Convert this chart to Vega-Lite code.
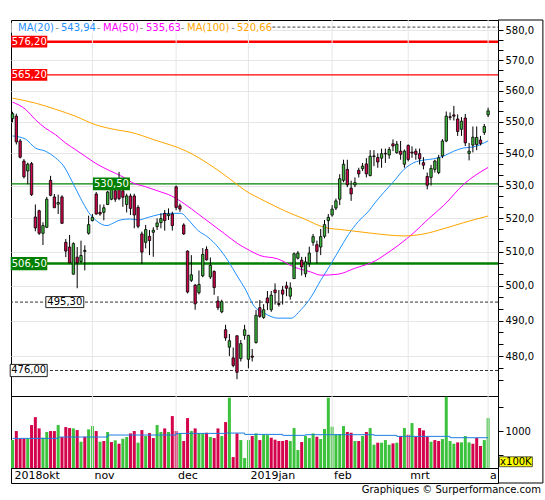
{
  "$schema": "https://vega.github.io/schema/vega-lite/v6.json",
  "padding": {"left": 7, "top": 19, "right": 3, "bottom": 2},
  "background": "white",
  "spacing": 0,
  "bounds": "flush",
  "config": {
    "font": "DejaVu Sans",
    "view": {"stroke": "#000000", "strokeWidth": 1},
    "scale": {"continuousPadding": 0},
    "text": {"font": "DejaVu Sans"},
    "axis": {"labelFont": "DejaVu Sans", "labelFontSize": 10, "labelColor": "#000000", "tickColor": "#000000"}
  },
  "title": {"text": "Graphiques © Surperformance.com", "orient": "bottom", "anchor": "end", "frame": "bounds", "fontSize": 10, "fontWeight": "normal", "font": "DejaVu Sans", "color": "#000000", "offset": 1, "dx": -3},
  "datasets": {
    "ohlc": [
      {"i":0,"o":551.0,"h":553.2,"l":549.8,"c":552.6,"v":812,"vd":"u"},
      {"i":1,"o":551.8,"h":552.6,"l":542.8,"c":543.6,"v":1000,"vd":"d"},
      {"i":2,"o":543.9,"h":544.5,"l":538.4,"c":538.8,"v":847,"vd":"d"},
      {"i":3,"o":537.6,"h":538.2,"l":532.2,"c":532.7,"v":847,"vd":"d"},
      {"i":4,"o":534.5,"h":537.1,"l":530.4,"c":536.6,"v":847,"vd":"u"},
      {"i":5,"o":536.8,"h":537.3,"l":526.8,"c":527.2,"v":1125,"vd":"d"},
      {"i":6,"o":520.4,"h":524.2,"l":516.1,"c":517.1,"v":1290,"vd":"d"},
      {"i":7,"o":522.3,"h":522.6,"l":515.0,"c":515.5,"v":1055,"vd":"d"},
      {"i":8,"o":515.5,"h":518.8,"l":512.0,"c":517.8,"v":861,"vd":"u"},
      {"i":9,"o":517.3,"h":526.5,"l":517.1,"c":525.8,"v":980,"vd":"u"},
      {"i":10,"o":531.6,"h":533.0,"l":526.7,"c":527.0,"v":1000,"vd":"d"},
      {"i":11,"o":526.5,"h":527.4,"l":523.2,"c":523.2,"v":1000,"vd":"d"},
      {"i":12,"o":524.3,"h":527.2,"l":521.3,"c":524.8,"v":1125,"vd":"u"},
      {"i":13,"o":526.5,"h":527.0,"l":518.3,"c":518.5,"v":875,"vd":"d"},
      {"i":14,"o":512.8,"h":513.8,"l":508.4,"c":510.2,"v":1083,"vd":"d"},
      {"i":15,"o":511.4,"h":515.0,"l":506.7,"c":506.7,"v":1062,"vd":"d"},
      {"i":16,"o":503.4,"h":512.8,"l":503.3,"c":512.4,"v":1055,"vd":"u"},
      {"i":17,"o":508.4,"h":511.4,"l":499.3,"c":506.7,"v":1020,"vd":"d"},
      {"i":18,"o":507.1,"h":513.3,"l":506.7,"c":508.9,"v":778,"vd":"u"},
      {"i":19,"o":510.1,"h":511.9,"l":504.5,"c":510.4,"v":882,"vd":"d"},
      {"i":20,"o":515.5,"h":520.8,"l":515.1,"c":518.1,"v":1035,"vd":"u"},
      {"i":21,"o":519.3,"h":521.3,"l":519.1,"c":520.3,"v":1104,"vd":"u"},
      {"i":22,"o":527.4,"h":528.0,"l":521.1,"c":521.3,"v":1000,"vd":"d"},
      {"i":23,"o":521.8,"h":524.2,"l":520.8,"c":521.3,"v":778,"vd":"u"},
      {"i":24,"o":521.8,"h":524.2,"l":519.4,"c":523.2,"v":792,"vd":"d"},
      {"i":25,"o":524.2,"h":528.4,"l":524.0,"c":528.0,"v":980,"vd":"u"},
      {"i":26,"o":525.8,"h":530.5,"l":525.5,"c":529.7,"v":771,"vd":"d"},
      {"i":27,"o":528.4,"h":530.5,"l":525.0,"c":525.8,"v":806,"vd":"u"},
      {"i":28,"o":532.0,"h":534.2,"l":525.5,"c":526.0,"v":736,"vd":"d"},
      {"i":29,"o":528.4,"h":530.0,"l":523.5,"c":526.4,"v":840,"vd":"u"},
      {"i":30,"o":524.2,"h":527.5,"l":521.8,"c":526.8,"v":875,"vd":"u"},
      {"i":31,"o":526.8,"h":527.5,"l":521.0,"c":523.0,"v":951,"vd":"d"},
      {"i":32,"o":526.8,"h":527.5,"l":517.0,"c":521.0,"v":1000,"vd":"d"},
      {"i":33,"o":523.3,"h":524.0,"l":517.0,"c":517.6,"v":757,"vd":"u"},
      {"i":34,"o":515.3,"h":516.0,"l":506.4,"c":509.9,"v":1020,"vd":"d"},
      {"i":35,"o":512.8,"h":518.0,"l":511.0,"c":516.6,"v":896,"vd":"u"},
      {"i":36,"o":514.6,"h":516.5,"l":509.0,"c":513.3,"v":958,"vd":"d"},
      {"i":37,"o":515.8,"h":517.3,"l":508.5,"c":516.4,"v":854,"vd":"d"},
      {"i":38,"o":517.5,"h":520.0,"l":516.5,"c":518.6,"v":1125,"vd":"u"},
      {"i":39,"o":518.7,"h":521.5,"l":517.0,"c":519.9,"v":980,"vd":"u"},
      {"i":40,"o":521.5,"h":522.5,"l":516.3,"c":519.3,"v":1055,"vd":"d"},
      {"i":41,"o":520.8,"h":523.0,"l":519.5,"c":521.3,"v":980,"vd":"u"},
      {"i":42,"o":521.3,"h":522.0,"l":516.3,"c":517.8,"v":1312,"vd":"d"},
      {"i":43,"o":529.6,"h":530.0,"l":522.5,"c":523.3,"v":1000,"vd":"d"},
      {"i":44,"o":523.8,"h":524.5,"l":522.0,"c":522.8,"v":951,"vd":"u"},
      {"i":45,"o":518.0,"h":518.5,"l":515.0,"c":515.3,"v":792,"vd":"d"},
      {"i":46,"o":510.2,"h":510.4,"l":497.8,"c":498.2,"v":1270,"vd":"d"},
      {"i":47,"o":501.6,"h":509.0,"l":501.1,"c":503.2,"v":1000,"vd":"u"},
      {"i":48,"o":500.2,"h":500.5,"l":493.1,"c":494.8,"v":1055,"vd":"d"},
      {"i":49,"o":498.0,"h":504.5,"l":497.5,"c":500.4,"v":951,"vd":"u"},
      {"i":50,"o":502.9,"h":511.1,"l":502.5,"c":509.2,"v":951,"vd":"u"},
      {"i":51,"o":510.7,"h":511.6,"l":507.4,"c":507.6,"v":965,"vd":"d"},
      {"i":52,"o":502.6,"h":508.3,"l":502.0,"c":506.0,"v":875,"vd":"u"},
      {"i":53,"o":504.2,"h":504.5,"l":497.4,"c":499.5,"v":854,"vd":"d"},
      {"i":54,"o":495.6,"h":497.0,"l":493.0,"c":493.7,"v":1055,"vd":"d"},
      {"i":55,"o":492.5,"h":496.0,"l":492.1,"c":495.4,"v":896,"vd":"u"},
      {"i":56,"o":487.4,"h":488.8,"l":484.3,"c":485.1,"v":1187,"vd":"d"},
      {"i":57,"o":482.5,"h":486.2,"l":480.0,"c":484.3,"v":1694,"vd":"u"},
      {"i":58,"o":479.5,"h":482.4,"l":476.9,"c":477.4,"v":458,"vd":"d"},
      {"i":59,"o":485.7,"h":485.8,"l":473.6,"c":475.5,"v":951,"vd":"d"},
      {"i":60,"o":479.3,"h":484.5,"l":478.5,"c":483.5,"v":812,"vd":"u"},
      {"i":61,"o":485.8,"h":488.8,"l":484.6,"c":487.4,"v":437,"vd":"u"},
      {"i":62,"o":479.1,"h":486.0,"l":476.6,"c":485.8,"v":812,"vd":"u"},
      {"i":63,"o":480.0,"h":482.0,"l":478.5,"c":479.7,"v":896,"vd":"d"},
      {"i":64,"o":483.8,"h":493.0,"l":483.5,"c":491.5,"v":951,"vd":"u"},
      {"i":65,"o":493.7,"h":495.9,"l":490.8,"c":491.2,"v":812,"vd":"d"},
      {"i":66,"o":490.9,"h":494.7,"l":490.5,"c":493.1,"v":930,"vd":"u"},
      {"i":67,"o":496.5,"h":498.5,"l":493.0,"c":495.1,"v":916,"vd":"u"},
      {"i":68,"o":493.1,"h":498.5,"l":492.5,"c":497.3,"v":861,"vd":"d"},
      {"i":69,"o":498.8,"h":500.7,"l":494.6,"c":498.0,"v":820,"vd":"d"},
      {"i":70,"o":494.9,"h":498.8,"l":494.0,"c":494.6,"v":792,"vd":"d"},
      {"i":71,"o":498.8,"h":500.0,"l":494.6,"c":497.6,"v":792,"vd":"d"},
      {"i":72,"o":500.0,"h":501.2,"l":497.0,"c":499.3,"v":812,"vd":"d"},
      {"i":73,"o":497.0,"h":501.0,"l":496.0,"c":499.4,"v":792,"vd":"u"},
      {"i":74,"o":502.1,"h":509.8,"l":502.1,"c":509.4,"v":1062,"vd":"u"},
      {"i":75,"o":508.1,"h":510.2,"l":507.7,"c":509.6,"v":604,"vd":"u"},
      {"i":76,"o":507.5,"h":508.5,"l":503.0,"c":505.5,"v":771,"vd":"d"},
      {"i":77,"o":503.5,"h":508.5,"l":502.5,"c":507.0,"v":896,"vd":"u"},
      {"i":78,"o":506.6,"h":511.5,"l":505.5,"c":509.6,"v":854,"vd":"u"},
      {"i":79,"o":512.8,"h":515.3,"l":511.8,"c":514.5,"v":951,"vd":"u"},
      {"i":80,"o":512.1,"h":513.3,"l":506.5,"c":510.1,"v":882,"vd":"d"},
      {"i":81,"o":511.4,"h":516.8,"l":509.0,"c":514.5,"v":833,"vd":"u"},
      {"i":82,"o":514.6,"h":519.5,"l":514.0,"c":518.1,"v":1042,"vd":"u"},
      {"i":83,"o":519.3,"h":521.3,"l":515.5,"c":520.3,"v":1694,"vd":"u"},
      {"i":84,"o":521.0,"h":524.0,"l":520.5,"c":522.8,"v":1090,"vd":"u"},
      {"i":85,"o":523.1,"h":526.0,"l":522.5,"c":525.3,"v":937,"vd":"u"},
      {"i":86,"o":525.8,"h":533.5,"l":524.0,"c":532.1,"v":937,"vd":"u"},
      {"i":87,"o":531.6,"h":538.0,"l":531.0,"c":536.6,"v":1104,"vd":"u"},
      {"i":88,"o":535.0,"h":538.0,"l":529.5,"c":530.2,"v":980,"vd":"d"},
      {"i":89,"o":529.2,"h":531.5,"l":525.3,"c":527.4,"v":965,"vd":"d"},
      {"i":90,"o":530.2,"h":532.5,"l":529.5,"c":530.9,"v":792,"vd":"u"},
      {"i":91,"o":534.7,"h":535.5,"l":532.5,"c":533.6,"v":792,"vd":"d"},
      {"i":92,"o":535.2,"h":537.0,"l":534.5,"c":536.0,"v":896,"vd":"u"},
      {"i":93,"o":536.7,"h":538.5,"l":532.5,"c":533.6,"v":980,"vd":"d"},
      {"i":94,"o":533.1,"h":541.0,"l":532.8,"c":539.1,"v":1062,"vd":"u"},
      {"i":95,"o":539.2,"h":541.0,"l":536.0,"c":539.0,"v":715,"vd":"u"},
      {"i":96,"o":538.7,"h":540.0,"l":535.5,"c":537.3,"v":757,"vd":"d"},
      {"i":97,"o":538.5,"h":541.5,"l":535.5,"c":539.9,"v":757,"vd":"u"},
      {"i":98,"o":540.0,"h":541.5,"l":537.0,"c":539.8,"v":812,"vd":"u"},
      {"i":99,"o":539.5,"h":542.0,"l":538.3,"c":541.2,"v":715,"vd":"u"},
      {"i":100,"o":543.0,"h":544.4,"l":540.7,"c":542.3,"v":743,"vd":"d"},
      {"i":101,"o":540.2,"h":543.9,"l":539.9,"c":542.9,"v":757,"vd":"u"},
      {"i":102,"o":540.7,"h":543.9,"l":538.0,"c":539.7,"v":896,"vd":"d"},
      {"i":103,"o":536.6,"h":541.2,"l":535.5,"c":540.7,"v":1062,"vd":"u"},
      {"i":104,"o":542.5,"h":542.8,"l":537.5,"c":538.1,"v":923,"vd":"d"},
      {"i":105,"o":540.4,"h":542.2,"l":538.6,"c":540.1,"v":1166,"vd":"u"},
      {"i":106,"o":540.7,"h":541.5,"l":538.0,"c":539.7,"v":882,"vd":"d"},
      {"i":107,"o":539.9,"h":541.5,"l":536.5,"c":538.3,"v":1062,"vd":"d"},
      {"i":108,"o":537.1,"h":538.8,"l":535.0,"c":536.3,"v":1014,"vd":"d"},
      {"i":109,"o":532.8,"h":534.0,"l":528.8,"c":530.1,"v":880,"vd":"d"},
      {"i":110,"o":532.5,"h":536.4,"l":530.0,"c":535.3,"v":778,"vd":"u"},
      {"i":111,"o":535.0,"h":538.0,"l":534.0,"c":537.6,"v":812,"vd":"d"},
      {"i":112,"o":534.0,"h":539.5,"l":533.5,"c":538.6,"v":792,"vd":"d"},
      {"i":113,"o":539.2,"h":544.5,"l":538.5,"c":543.9,"v":833,"vd":"u"},
      {"i":114,"o":543.9,"h":553.3,"l":543.5,"c":551.8,"v":1715,"vd":"u"},
      {"i":115,"o":551.6,"h":553.0,"l":550.5,"c":551.4,"v":792,"vd":"u"},
      {"i":116,"o":552.2,"h":555.1,"l":550.4,"c":551.8,"v":736,"vd":"u"},
      {"i":117,"o":550.9,"h":552.4,"l":545.5,"c":546.9,"v":764,"vd":"d"},
      {"i":118,"o":547.6,"h":551.5,"l":545.5,"c":550.2,"v":764,"vd":"u"},
      {"i":119,"o":551.2,"h":552.5,"l":542.3,"c":543.3,"v":896,"vd":"u"},
      {"i":120,"o":540.0,"h":543.3,"l":537.8,"c":540.7,"v":764,"vd":"u"},
      {"i":121,"o":542.6,"h":548.5,"l":540.3,"c":545.1,"v":736,"vd":"d"},
      {"i":122,"o":542.8,"h":548.5,"l":541.0,"c":545.0,"v":854,"vd":"d"},
      {"i":123,"o":544.2,"h":545.5,"l":542.5,"c":543.1,"v":688,"vd":"d"},
      {"i":124,"o":546.6,"h":549.3,"l":545.8,"c":548.5,"v":812,"vd":"u"},
      {"i":125,"o":552.2,"h":554.5,"l":551.5,"c":553.5,"v":1270,"vd":"u"}
    ],
    "ma": [
      {"s":"ma20","i":0,"v":545.5},{"s":"ma20","i":3.4,"v":544.5},{"s":"ma20","i":6,"v":541.7},{"s":"ma20","i":8.6,"v":540.7},{"s":"ma20","i":11.3,"v":538.6},{"s":"ma20","i":13.4,"v":536.1},{"s":"ma20","i":15.6,"v":531.4},{"s":"ma20","i":17.8,"v":526.3},{"s":"ma20","i":20,"v":521.8},{"s":"ma20","i":22,"v":519.3},{"s":"ma20","i":24.8,"v":517.8},{"s":"ma20","i":26,"v":518.3},{"s":"ma20","i":28.3,"v":519.5},{"s":"ma20","i":31,"v":519.8},{"s":"ma20","i":33,"v":519.5},{"s":"ma20","i":35.7,"v":520.3},{"s":"ma20","i":38.3,"v":521.1},{"s":"ma20","i":41,"v":521.5},{"s":"ma20","i":44.4,"v":521.5},{"s":"ma20","i":46,"v":519.8},{"s":"ma20","i":48.8,"v":516.3},{"s":"ma20","i":51.4,"v":514.3},{"s":"ma20","i":54,"v":511.4},{"s":"ma20","i":56.6,"v":507.4},{"s":"ma20","i":59.2,"v":502.6},{"s":"ma20","i":61,"v":499.4},{"s":"ma20","i":63.6,"v":494.0},{"s":"ma20","i":66.2,"v":492.1},{"s":"ma20","i":69.7,"v":490.7},{"s":"ma20","i":73.2,"v":490.7},{"s":"ma20","i":75.8,"v":493.1},{"s":"ma20","i":78.5,"v":496.8},{"s":"ma20","i":81,"v":501.6},{"s":"ma20","i":83.7,"v":506.4},{"s":"ma20","i":86.3,"v":511.4},{"s":"ma20","i":89,"v":516.3},{"s":"ma20","i":91.5,"v":519.8},{"s":"ma20","i":93.7,"v":522.3},{"s":"ma20","i":95,"v":524.3},{"s":"ma20","i":97.6,"v":527.9},{"s":"ma20","i":100.3,"v":531.4},{"s":"ma20","i":102.9,"v":535.0},{"s":"ma20","i":105.5,"v":537.1},{"s":"ma20","i":108.1,"v":537.9},{"s":"ma20","i":110.7,"v":538.3},{"s":"ma20","i":113.4,"v":539.2},{"s":"ma20","i":116,"v":540.7},{"s":"ma20","i":118.6,"v":541.7},{"s":"ma20","i":121,"v":542.0},{"s":"ma20","i":125,"v":543.9},
      {"s":"ma50","i":0,"v":556.3},{"s":"ma50","i":3.4,"v":554.0},{"s":"ma50","i":6,"v":550.7},{"s":"ma50","i":8.6,"v":548.0},{"s":"ma50","i":11.3,"v":545.9},{"s":"ma50","i":13.9,"v":543.3},{"s":"ma50","i":16.5,"v":541.2},{"s":"ma50","i":19.1,"v":539.1},{"s":"ma50","i":21.7,"v":537.0},{"s":"ma50","i":24.3,"v":535.3},{"s":"ma50","i":27,"v":533.8},{"s":"ma50","i":29.6,"v":532.3},{"s":"ma50","i":31.3,"v":531.0},{"s":"ma50","i":34.8,"v":529.7},{"s":"ma50","i":38.3,"v":528.3},{"s":"ma50","i":41.8,"v":526.8},{"s":"ma50","i":45.3,"v":524.3},{"s":"ma50","i":48.8,"v":521.3},{"s":"ma50","i":52.3,"v":518.3},{"s":"ma50","i":55.8,"v":515.3},{"s":"ma50","i":59.2,"v":512.4},{"s":"ma50","i":62.3,"v":510.4},{"s":"ma50","i":65,"v":508.9},{"s":"ma50","i":69.7,"v":507.9},{"s":"ma50","i":74,"v":505.5},{"s":"ma50","i":78.5,"v":504.0},{"s":"ma50","i":81.1,"v":503.1},{"s":"ma50","i":85.6,"v":503.4},{"s":"ma50","i":89.9,"v":505.1},{"s":"ma50","i":95.5,"v":507.4},{"s":"ma50","i":97.6,"v":508.9},{"s":"ma50","i":101.5,"v":512.0},{"s":"ma50","i":105.5,"v":515.7},{"s":"ma50","i":109.4,"v":519.9},{"s":"ma50","i":113.4,"v":524.0},{"s":"ma50","i":118.6,"v":530.4},{"s":"ma50","i":125,"v":535.6},
      {"s":"ma100","i":0,"v":557.6},{"s":"ma100","i":6,"v":556.0},{"s":"ma100","i":11.3,"v":554.0},{"s":"ma100","i":16.5,"v":551.8},{"s":"ma100","i":21.7,"v":549.1},{"s":"ma100","i":27,"v":547.5},{"s":"ma100","i":30.9,"v":546.7},{"s":"ma100","i":37.4,"v":544.2},{"s":"ma100","i":45.7,"v":540.7},{"s":"ma100","i":52.3,"v":536.1},{"s":"ma100","i":58.4,"v":530.9},{"s":"ma100","i":61,"v":528.6},{"s":"ma100","i":66.2,"v":525.3},{"s":"ma100","i":71.5,"v":522.3},{"s":"ma100","i":76.7,"v":519.8},{"s":"ma100","i":81.9,"v":517.3},{"s":"ma100","i":87.2,"v":516.5},{"s":"ma100","i":93.7,"v":515.6},{"s":"ma100","i":97.6,"v":515.1},{"s":"ma100","i":102.9,"v":514.7},{"s":"ma100","i":108.1,"v":515.3},{"s":"ma100","i":113.4,"v":516.9},{"s":"ma100","i":118.6,"v":518.7},{"s":"ma100","i":125,"v":520.7}
    ],
    "vma": [
      {"i":0,"v":847},{"i":12,"v":875},{"i":25,"v":917},{"i":43,"v":951},{"i":56,"v":958},{"i":61,"v":930},{"i":71,"v":910},{"i":77,"v":924},{"i":95,"v":910},{"i":101,"v":889},{"i":115,"v":861},{"i":125,"v":861}
    ],
    "levels": [
      {"p":576.2,"t":"576,20"},{"p":565.2,"t":"565,20"},{"p":530.5,"t":"530,50"},{"p":506.5,"t":"506,50"},{"p":495.3,"t":"495,30"},{"p":476.0,"t":"476,00"}
    ],
    "months": [
      {"m":"2018okt","i":0},{"m":"nov","i":21},{"m":"dec","i":43},{"m":"2019jan","i":62},{"m":"feb","i":84},{"m":"mrt","i":104},{"m":"a","i":125}
    ]
  },
  "vconcat": [
    {
      "width": 487,
      "height": 376,
      "layer": [
        {
          "data": {"name": "levels"},
          "mark": {"type": "rule", "color": "#FF0000", "strokeWidth": 2.5},
          "transform": [{"filter": "datum.p == 576.2"}],
          "encoding": {
            "y": {"field": "p", "type": "quantitative", "title": null, "scale": {"type": "log", "domain": [469, 583.5], "nice": false, "zero": false},
              "axis": {"orient": "right", "title": null, "domain": false, "tickSize": 5, "labelPadding": 2, "labelOverlap": false, "labelFlush": false,
                "values": [473.3333, 476.6667, 480, 483.3333, 486.6667, 490, 493.3333, 496.6667, 500, 503.3333, 506.6667, 510, 513.3333, 516.6667, 520, 523.3333, 526.6667, 530, 533.3333, 536.6667, 540, 543.3333, 546.6667, 550, 553.3333, 556.6667, 560, 563.3333, 566.6667, 570, 573.3333, 576.6667, 580],
                "labelExpr": "abs(datum.value % 10) < 0.01 ? replace(format(datum.value, '.1f'), '.', ',') : ''",
                "grid": true, "gridColor": "#E6E6E6",
                "gridOpacity": {"condition": {"test": "abs(datum.value % 10) < 0.01", "value": 1}, "value": 0}}}
          }
        },
        {
          "data": {"name": "months"},
          "transform": [{"filter": "datum.i > 0"}],
          "mark": {"type": "rule", "color": "#E6E6E6", "strokeWidth": 1},
          "encoding": {
            "x": {"field": "i", "type": "quantitative", "title": null, "scale": {"domain": [-0.4, 127.6], "nice": false, "zero": false}, "axis": null}
          }
        },
        {
          "data": {"name": "levels"},
          "mark": {"type": "rule", "color": "#FF0000", "strokeWidth": 1.2},
          "transform": [{"filter": "datum.p == 565.2"}],
          "encoding": {"y": {"field": "p", "type": "quantitative", "title": null, "scale": {"type": "log", "domain": [469, 583.5], "nice": false, "zero": false}}}
        },
        {
          "data": {"name": "levels"},
          "mark": {"type": "rule", "color": "#008000", "strokeWidth": 1.2},
          "transform": [{"filter": "datum.p == 530.5"}],
          "encoding": {"y": {"field": "p", "type": "quantitative", "title": null, "scale": {"type": "log", "domain": [469, 583.5], "nice": false, "zero": false}}}
        },
        {
          "data": {"name": "levels"},
          "mark": {"type": "rule", "color": "#008000", "strokeWidth": 2.5},
          "transform": [{"filter": "datum.p == 506.5"}],
          "encoding": {"y": {"field": "p", "type": "quantitative", "title": null, "scale": {"type": "log", "domain": [469, 583.5], "nice": false, "zero": false}}}
        },
        {
          "data": {"name": "levels"},
          "mark": {"type": "rule", "color": "#333333", "strokeWidth": 1, "strokeDash": [3, 2]},
          "transform": [{"filter": "datum.p < 500"}],
          "encoding": {"y": {"field": "p", "type": "quantitative", "title": null, "scale": {"type": "log", "domain": [469, 583.5], "nice": false, "zero": false}}}
        },
        {
          "data": {"name": "ma"},
          "mark": {"type": "line", "strokeWidth": 1, "interpolate": "monotone"},
          "encoding": {
            "x": {"field": "i", "type": "quantitative", "title": null, "scale": {"domain": [-0.4, 127.6], "nice": false, "zero": false}, "axis": null},
            "y": {"field": "v", "type": "quantitative", "title": null, "scale": {"type": "log", "domain": [469, 583.5], "nice": false, "zero": false}},
            "color": {"field": "s", "type": "nominal", "scale": {"domain": ["ma20", "ma50", "ma100"], "range": ["#1E90FF", "#FF00FF", "#FFA500"]}, "legend": null}
          }
        },
        {
          "data": {"name": "ohlc"},
          "mark": {"type": "rule", "color": "#000000", "strokeWidth": 1},
          "encoding": {
            "x": {"field": "i", "type": "quantitative", "title": null, "scale": {"domain": [-0.4, 127.6], "nice": false, "zero": false}, "axis": null},
            "y": {"field": "l", "type": "quantitative", "title": null, "scale": {"type": "log", "domain": [469, 583.5], "nice": false, "zero": false}},
            "y2": {"field": "h"}
          }
        },
        {
          "data": {"name": "ohlc"},
          "mark": {"type": "bar", "orient": "vertical", "size": 2.4, "stroke": "#000000", "strokeWidth": 0.8},
          "encoding": {
            "x": {"field": "i", "type": "quantitative", "title": null, "scale": {"domain": [-0.4, 127.6], "nice": false, "zero": false}, "axis": null},
            "y": {"field": "o", "type": "quantitative", "title": null, "scale": {"type": "log", "domain": [469, 583.5], "nice": false, "zero": false}},
            "y2": {"field": "c"},
            "fill": {"condition": {"test": "datum.c >= datum.o", "value": "#3DB83D"}, "value": "#D0044C"}
          }
        },
        {
          "data": {"values": [{"f": "legend background"}]},
          "mark": {"type": "rect", "fill": "#FFFFFF"},
          "encoding": {
            "x": {"datum": -0.3, "type": "quantitative", "title": null, "scale": {"domain": [-0.4, 127.6], "nice": false, "zero": false}, "axis": null},
            "x2": {"datum": 68.3},
            "y": {"datum": 579.2, "type": "quantitative", "title": null, "scale": {"type": "log", "domain": [469, 583.5], "nice": false, "zero": false}},
            "y2": {"datum": 582.6}
          }
        },
        {
          "data": {"values": [{"p": 581.1}]},
          "mark": {"type": "rule", "color": "#444444", "strokeWidth": 1, "strokeDash": [3, 2]},
          "encoding": {
            "x": {"datum": 68.3, "type": "quantitative", "title": null, "scale": {"domain": [-0.4, 127.6], "nice": false, "zero": false}, "axis": null},
            "x2": {"datum": 127.6},
            "y": {"field": "p", "type": "quantitative", "title": null, "scale": {"type": "log", "domain": [469, 583.5], "nice": false, "zero": false}}
          }
        },
        {
          "data": {"name": "levels"},
          "transform": [{"filter": "datum.p > 560"}],
          "mark": {"type": "point", "filled": true, "opacity": 1, "color": "#FF0000", "size": 1296, "shape": "M-1,-0.33H1V0.33H-1Z"},
          "encoding": {
            "x": {"datum": 4.4, "type": "quantitative", "title": null, "scale": {"domain": [-0.4, 127.6], "nice": false, "zero": false}, "axis": null},
            "y": {"field": "p", "type": "quantitative", "title": null, "scale": {"type": "log", "domain": [469, 583.5], "nice": false, "zero": false}}
          }
        },
        {
          "data": {"name": "levels"},
          "transform": [{"filter": "datum.p == 506.5"}],
          "mark": {"type": "point", "filled": true, "opacity": 1, "color": "#008000", "size": 1340, "shape": "M-1,-0.36H1V0.36H-1Z"},
          "encoding": {
            "x": {"datum": 4.33, "type": "quantitative", "title": null, "scale": {"domain": [-0.4, 127.6], "nice": false, "zero": false}, "axis": null},
            "y": {"field": "p", "type": "quantitative", "title": null, "scale": {"type": "log", "domain": [469, 583.5], "nice": false, "zero": false}}
          }
        },
        {
          "data": {"name": "levels"},
          "transform": [{"filter": "datum.p == 530.5"}],
          "mark": {"type": "point", "filled": true, "opacity": 1, "color": "#008000", "size": 1369, "shape": "M-1,-0.34H1V0.34H-1Z"},
          "encoding": {
            "x": {"datum": 26.0, "type": "quantitative", "title": null, "scale": {"domain": [-0.4, 127.6], "nice": false, "zero": false}, "axis": null},
            "y": {"field": "p", "type": "quantitative", "title": null, "scale": {"type": "log", "domain": [469, 583.5], "nice": false, "zero": false}}
          }
        },
        {
          "data": {"name": "levels"},
          "transform": [{"filter": "datum.p == 495.3"}],
          "mark": {"type": "point", "filled": true, "opacity": 1, "fill": "#FFFFFF", "stroke": "#222222", "strokeWidth": 1, "size": 1440, "shape": "M-1,-0.29H1V0.29H-1Z"},
          "encoding": {
            "x": {"datum": 13.74, "type": "quantitative", "title": null, "scale": {"domain": [-0.4, 127.6], "nice": false, "zero": false}, "axis": null},
            "y": {"field": "p", "type": "quantitative", "title": null, "scale": {"type": "log", "domain": [469, 583.5], "nice": false, "zero": false}}
          }
        },
        {
          "data": {"name": "levels"},
          "transform": [{"filter": "datum.p == 476"}],
          "mark": {"type": "point", "filled": true, "opacity": 1, "fill": "#FFFFFF", "stroke": "#222222", "strokeWidth": 1, "size": 1369, "shape": "M-1,-0.33H1V0.33H-1Z"},
          "encoding": {
            "x": {"datum": 4.25, "type": "quantitative", "title": null, "scale": {"domain": [-0.4, 127.6], "nice": false, "zero": false}, "axis": null},
            "y": {"field": "p", "type": "quantitative", "title": null, "scale": {"type": "log", "domain": [469, 583.5], "nice": false, "zero": false}}
          }
        },
        {
          "data": {"name": "levels"},
          "transform": [{"filter": "datum.p > 560 || datum.p == 506.5"}],
          "mark": {"type": "text", "color": "#FFFFFF", "fontSize": 10, "align": "center", "baseline": "middle"},
          "encoding": {
            "x": {"datum": 4.4, "type": "quantitative", "title": null, "scale": {"domain": [-0.4, 127.6], "nice": false, "zero": false}, "axis": null},
            "y": {"field": "p", "type": "quantitative", "title": null, "scale": {"type": "log", "domain": [469, 583.5], "nice": false, "zero": false}},
            "text": {"field": "t"}
          }
        },
        {
          "data": {"name": "levels"},
          "transform": [{"filter": "datum.p == 530.5"}],
          "mark": {"type": "text", "color": "#FFFFFF", "fontSize": 10, "align": "center", "baseline": "middle"},
          "encoding": {
            "x": {"datum": 26.0, "type": "quantitative", "title": null, "scale": {"domain": [-0.4, 127.6], "nice": false, "zero": false}, "axis": null},
            "y": {"field": "p", "type": "quantitative", "title": null, "scale": {"type": "log", "domain": [469, 583.5], "nice": false, "zero": false}},
            "text": {"field": "t"}
          }
        },
        {
          "data": {"name": "levels"},
          "transform": [{"filter": "datum.p == 495.3"}],
          "mark": {"type": "text", "color": "#000000", "fontSize": 10, "align": "center", "baseline": "middle"},
          "encoding": {
            "x": {"datum": 13.74, "type": "quantitative", "title": null, "scale": {"domain": [-0.4, 127.6], "nice": false, "zero": false}, "axis": null},
            "y": {"field": "p", "type": "quantitative", "title": null, "scale": {"type": "log", "domain": [469, 583.5], "nice": false, "zero": false}},
            "text": {"field": "t"}
          }
        },
        {
          "data": {"name": "levels"},
          "transform": [{"filter": "datum.p == 476"}],
          "mark": {"type": "text", "color": "#000000", "fontSize": 10, "align": "center", "baseline": "middle"},
          "encoding": {
            "x": {"datum": 4.25, "type": "quantitative", "title": null, "scale": {"domain": [-0.4, 127.6], "nice": false, "zero": false}, "axis": null},
            "y": {"field": "p", "type": "quantitative", "title": null, "scale": {"type": "log", "domain": [469, 583.5], "nice": false, "zero": false}},
            "text": {"field": "t"}
          }
        },
        {
          "data": {"values": [{"t": "MA(20)"}]},
          "mark": {"type": "text", "color": "#1E90FF", "fontSize": 10, "align": "left", "baseline": "middle"},
          "encoding": {
            "x": {"datum": 1.44, "type": "quantitative", "title": null, "scale": {"domain": [-0.4, 127.6], "nice": false, "zero": false}, "axis": null},
            "y": {"datum": 580.8, "type": "quantitative", "title": null, "scale": {"type": "log", "domain": [469, 583.5], "nice": false, "zero": false}},
            "text": {"field": "t"}
          }
        },
        {
          "data": {"values": [{"t": "543,94"}]},
          "mark": {"type": "text", "color": "#1E90FF", "fontSize": 10, "align": "left", "baseline": "middle"},
          "encoding": {
            "x": {"datum": 12.74, "type": "quantitative", "title": null, "scale": {"domain": [-0.4, 127.6], "nice": false, "zero": false}, "axis": null},
            "y": {"datum": 580.8, "type": "quantitative", "title": null, "scale": {"type": "log", "domain": [469, 583.5], "nice": false, "zero": false}},
            "text": {"field": "t"}
          }
        },
        {
          "data": {"values": [{"t": "MA(50)"}]},
          "mark": {"type": "text", "color": "#FF00FF", "fontSize": 10, "align": "left", "baseline": "middle"},
          "encoding": {
            "x": {"datum": 23.78, "type": "quantitative", "title": null, "scale": {"domain": [-0.4, 127.6], "nice": false, "zero": false}, "axis": null},
            "y": {"datum": 580.8, "type": "quantitative", "title": null, "scale": {"type": "log", "domain": [469, 583.5], "nice": false, "zero": false}},
            "text": {"field": "t"}
          }
        },
        {
          "data": {"values": [{"t": "535,63"}]},
          "mark": {"type": "text", "color": "#FF00FF", "fontSize": 10, "align": "left", "baseline": "middle"},
          "encoding": {
            "x": {"datum": 35.08, "type": "quantitative", "title": null, "scale": {"domain": [-0.4, 127.6], "nice": false, "zero": false}, "axis": null},
            "y": {"datum": 580.8, "type": "quantitative", "title": null, "scale": {"type": "log", "domain": [469, 583.5], "nice": false, "zero": false}},
            "text": {"field": "t"}
          }
        },
        {
          "data": {"values": [{"t": "MA(100)"}]},
          "mark": {"type": "text", "color": "#FFA500", "fontSize": 10, "align": "left", "baseline": "middle"},
          "encoding": {
            "x": {"datum": 45.86, "type": "quantitative", "title": null, "scale": {"domain": [-0.4, 127.6], "nice": false, "zero": false}, "axis": null},
            "y": {"datum": 580.8, "type": "quantitative", "title": null, "scale": {"type": "log", "domain": [469, 583.5], "nice": false, "zero": false}},
            "text": {"field": "t"}
          }
        },
        {
          "data": {"values": [{"t": "520,66"}]},
          "mark": {"type": "text", "color": "#FFA500", "fontSize": 10, "align": "left", "baseline": "middle"},
          "encoding": {
            "x": {"datum": 59.0, "type": "quantitative", "title": null, "scale": {"domain": [-0.4, 127.6], "nice": false, "zero": false}, "axis": null},
            "y": {"datum": 580.8, "type": "quantitative", "title": null, "scale": {"type": "log", "domain": [469, 583.5], "nice": false, "zero": false}},
            "text": {"field": "t"}
          }
        },
        {
          "data": {"values": [{"t": "-"}]},
          "mark": {"type": "text", "color": "#888888", "fontSize": 10, "align": "center", "baseline": "middle"},
          "encoding": {
            "x": {"datum": 11.69, "type": "quantitative", "title": null, "scale": {"domain": [-0.4, 127.6], "nice": false, "zero": false}, "axis": null},
            "y": {"datum": 580.8, "type": "quantitative", "title": null, "scale": {"type": "log", "domain": [469, 583.5], "nice": false, "zero": false}},
            "text": {"field": "t"}
          }
        },
        {
          "data": {"values": [{"t": "-"}]},
          "mark": {"type": "text", "color": "#888888", "fontSize": 10, "align": "center", "baseline": "middle"},
          "encoding": {
            "x": {"datum": 22.6, "type": "quantitative", "title": null, "scale": {"domain": [-0.4, 127.6], "nice": false, "zero": false}, "axis": null},
            "y": {"datum": 580.8, "type": "quantitative", "title": null, "scale": {"type": "log", "domain": [469, 583.5], "nice": false, "zero": false}},
            "text": {"field": "t"}
          }
        },
        {
          "data": {"values": [{"t": "-"}]},
          "mark": {"type": "text", "color": "#888888", "fontSize": 10, "align": "center", "baseline": "middle"},
          "encoding": {
            "x": {"datum": 33.9, "type": "quantitative", "title": null, "scale": {"domain": [-0.4, 127.6], "nice": false, "zero": false}, "axis": null},
            "y": {"datum": 580.8, "type": "quantitative", "title": null, "scale": {"type": "log", "domain": [469, 583.5], "nice": false, "zero": false}},
            "text": {"field": "t"}
          }
        },
        {
          "data": {"values": [{"t": "-"}]},
          "mark": {"type": "text", "color": "#888888", "fontSize": 10, "align": "center", "baseline": "middle"},
          "encoding": {
            "x": {"datum": 44.7, "type": "quantitative", "title": null, "scale": {"domain": [-0.4, 127.6], "nice": false, "zero": false}, "axis": null},
            "y": {"datum": 580.8, "type": "quantitative", "title": null, "scale": {"type": "log", "domain": [469, 583.5], "nice": false, "zero": false}},
            "text": {"field": "t"}
          }
        },
        {
          "data": {"values": [{"t": "-"}]},
          "mark": {"type": "text", "color": "#888888", "fontSize": 10, "align": "center", "baseline": "middle"},
          "encoding": {
            "x": {"datum": 57.95, "type": "quantitative", "title": null, "scale": {"domain": [-0.4, 127.6], "nice": false, "zero": false}, "axis": null},
            "y": {"datum": 580.8, "type": "quantitative", "title": null, "scale": {"type": "log", "domain": [469, 583.5], "nice": false, "zero": false}},
            "text": {"field": "t"}
          }
        },
        {
          "data": {"values": [{"f": "frame"}]},
          "mark": {"type": "rule", "color": "#000000", "strokeWidth": 1},
          "encoding": {
            "x": {"datum": 139.4, "type": "quantitative", "title": null, "scale": {"domain": [-0.4, 127.6], "nice": false, "zero": false}, "axis": null}
          }
        },
        {
          "data": {"values": [{"f": "frame"}]},
          "mark": {"type": "rule", "color": "#000000", "strokeWidth": 1},
          "encoding": {
            "x": {"datum": 127.6, "type": "quantitative", "title": null, "scale": {"domain": [-0.4, 127.6], "nice": false, "zero": false}, "axis": null},
            "x2": {"datum": 139.4},
            "y": {"datum": 583.5, "type": "quantitative", "title": null, "scale": {"type": "log", "domain": [469, 583.5], "nice": false, "zero": false}}
          }
        }
      ]
    },
    {
      "width": 487,
      "height": 72,
      "layer": [
        {
          "data": {"name": "ohlc"},
          "mark": {"type": "bar", "orient": "vertical", "size": 3},
          "encoding": {
            "x": {"field": "i", "type": "quantitative", "title": null, "scale": {"domain": [-0.4, 127.6], "nice": false, "zero": false}, "axis": null},
            "y": {"field": "v", "type": "quantitative", "title": null, "scale": {"domain": [230, 1730], "nice": false, "zero": false},
              "axis": {"orient": "right", "title": null, "domain": false, "grid": false, "tickSize": 5, "labelPadding": 2, "labelOverlap": false, "labelFlush": false, "values": [500, 1000, 1500], "labelExpr": "datum.value == 1000 ? '1000' : ''"}},
            "y2": {"datum": 230},
            "fill": {"condition": {"test": "datum.vd == 'u'", "value": "#3CC23C"}, "value": "#D4044C"}
          }
        },
        {
          "data": {"name": "months"},
          "transform": [{"filter": "datum.i > 0"}],
          "mark": {"type": "rule", "color": "#E6E6E6", "strokeWidth": 1},
          "encoding": {
            "x": {"field": "i", "type": "quantitative", "title": null, "scale": {"domain": [-0.4, 127.6], "nice": false, "zero": false}, "axis": null}
          }
        },
        {
          "data": {"name": "vma"},
          "mark": {"type": "line", "color": "#1E7FE0", "strokeWidth": 1, "interpolate": "step-after"},
          "encoding": {
            "x": {"field": "i", "type": "quantitative", "title": null, "scale": {"domain": [-0.4, 127.6], "nice": false, "zero": false}, "axis": null},
            "y": {"field": "v", "type": "quantitative", "title": null, "scale": {"domain": [230, 1730], "nice": false, "zero": false},
              "axis": {"orient": "right", "title": null, "domain": false, "grid": false, "tickSize": 5, "labelPadding": 2, "labelOverlap": false, "labelFlush": false, "values": [500, 1000, 1500], "labelExpr": "datum.value == 1000 ? '1000' : ''"}}
          }
        },
        {
          "data": {"values": [{"t": "x100K", "y": 360}]},
          "mark": {"type": "point", "filled": true, "opacity": 1, "fill": "#FFFF00", "stroke": "#333333", "strokeWidth": 0.8, "size": 1089, "shape": "M-1,-0.3H1V0.3H-1Z"},
          "encoding": {
            "x": {"datum": 132.3, "type": "quantitative", "title": null, "scale": {"domain": [-0.4, 127.6], "nice": false, "zero": false}, "axis": null},
            "y": {"field": "y", "type": "quantitative", "title": null, "scale": {"domain": [230, 1730], "nice": false, "zero": false},
              "axis": {"orient": "right", "title": null, "domain": false, "grid": false, "tickSize": 5, "labelPadding": 2, "labelOverlap": false, "labelFlush": false, "values": [500, 1000, 1500], "labelExpr": "datum.value == 1000 ? '1000' : ''"}}
          }
        },
        {
          "data": {"values": [{"t": "x100K", "y": 360}]},
          "mark": {"type": "text", "color": "#000000", "fontSize": 10, "align": "center", "baseline": "middle"},
          "encoding": {
            "x": {"datum": 132.3, "type": "quantitative", "title": null, "scale": {"domain": [-0.4, 127.6], "nice": false, "zero": false}, "axis": null},
            "y": {"field": "y", "type": "quantitative", "title": null, "scale": {"domain": [230, 1730], "nice": false, "zero": false},
              "axis": {"orient": "right", "title": null, "domain": false, "grid": false, "tickSize": 5, "labelPadding": 2, "labelOverlap": false, "labelFlush": false, "values": [500, 1000, 1500], "labelExpr": "datum.value == 1000 ? '1000' : ''"}},
            "text": {"field": "t"}
          }
        },
        {
          "data": {"values": [{"f": "frame"}]},
          "mark": {"type": "rule", "color": "#000000", "strokeWidth": 1},
          "encoding": {
            "x": {"datum": 139.4, "type": "quantitative", "title": null, "scale": {"domain": [-0.4, 127.6], "nice": false, "zero": false}, "axis": null}
          }
        }
      ]
    },
    {
      "width": 487,
      "height": 15,
      "layer": [
        {
          "data": {"name": "months"},
          "mark": {"type": "text", "align": "left", "baseline": "middle", "dx": 2, "fontSize": 11, "color": "#000000"},
          "encoding": {
            "x": {"field": "i", "type": "quantitative", "title": null, "scale": {"domain": [-0.4, 127.6], "nice": false, "zero": false}, "axis": null},
            "y": {"datum": 0.5, "type": "quantitative", "scale": {"domain": [0, 1]}, "axis": null},
            "text": {"field": "m"}
          }
        },
        {
          "data": {"values": [{"f": "frame"}]},
          "mark": {"type": "rule", "color": "#000000", "strokeWidth": 1},
          "encoding": {
            "x": {"datum": 139.4, "type": "quantitative", "title": null, "scale": {"domain": [-0.4, 127.6], "nice": false, "zero": false}, "axis": null}
          }
        },
        {
          "data": {"values": [{"f": "frame"}]},
          "mark": {"type": "rule", "color": "#000000", "strokeWidth": 1},
          "encoding": {
            "x": {"datum": 127.6, "type": "quantitative", "title": null, "scale": {"domain": [-0.4, 127.6], "nice": false, "zero": false}, "axis": null},
            "x2": {"datum": 139.4},
            "y": {"datum": 0, "type": "quantitative", "scale": {"domain": [0, 1]}, "axis": null}
          }
        }
      ]
    }
  ]
}
